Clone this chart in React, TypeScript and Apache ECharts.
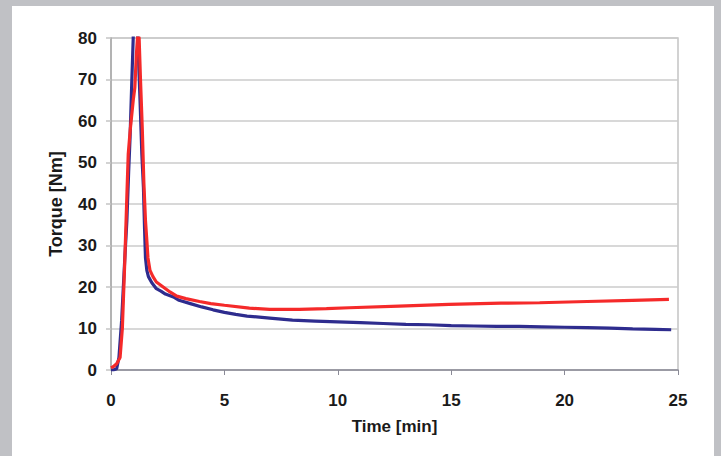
import React, { useEffect, useRef } from "react";
import * as echarts from "echarts";

const xTicks = [0, 5, 10, 15, 20, 25];
const yTicks = [0, 10, 20, 30, 40, 50, 60, 70, 80];

const blueTime = [0, 0.1, 0.25, 0.35, 0.47, 0.6, 0.7, 0.78, 0.84, 0.92, 0.98, 1.02, 1.1, 1.18, 1.28, 1.36, 1.43, 1.48, 1.52, 1.58, 1.65, 1.8, 2.0, 2.2, 2.4, 2.75, 3.0, 3.5, 4.0, 4.5, 5.0, 5.5, 6.0, 7.0, 8.0, 9.0, 10, 11, 12, 13, 14, 15, 16, 17, 18, 19, 20, 21, 22, 23, 24, 24.7];
const blueTorque = [0, 0, 0.3, 3, 12, 26, 36, 48, 56, 70, 80, 92, 92, 80, 65, 52, 44, 34, 27, 24, 22.5, 21, 19.6, 19, 18.3, 17.6, 16.8, 16.0, 15.2, 14.5, 13.9, 13.4, 13.0, 12.5, 12.0, 11.8, 11.6, 11.4, 11.2, 11.0, 10.9, 10.7, 10.6, 10.5, 10.5, 10.4, 10.3, 10.2, 10.1, 9.9, 9.8, 9.7];

const redTime = [0, 0.1, 0.25, 0.4, 0.5, 0.6, 0.7, 0.76, 0.85, 0.98, 1.05, 1.12, 1.18, 1.24, 1.3, 1.38, 1.45, 1.52, 1.57, 1.63, 1.72, 1.85, 2.0, 2.3, 2.6, 2.9, 3.3, 3.9, 4.4, 5.0, 6.1, 7.0, 8.3, 9.5, 10.5, 12.7, 14.9, 17.2, 18.9, 21, 23, 24.6];
const redTorque = [0.5, 0.8, 1.5, 3, 10, 25, 42, 52, 58, 65, 68, 76, 81, 80, 70, 58, 45, 36, 32, 27, 24, 22.5, 21.2, 20, 18.8, 17.8, 17.2, 16.5, 16.0, 15.6, 14.9, 14.6, 14.6, 14.8, 15.0, 15.4, 15.8, 16.1, 16.2, 16.5, 16.8, 17.0];

const pairs = (xs: number[], ys: number[]) => xs.map((x, i) => [x, ys[i]]);

export default function App() {
  const ref = useRef<HTMLDivElement>(null);
  useEffect(() => {
    if (!ref.current) return;
    const chart = echarts.init(ref.current, null, { renderer: "svg" });
    const font = "'Liberation Sans', Arial, sans-serif";
    chart.setOption({
      animation: false,
      backgroundColor: "#c0c1c5",
      graphic: [
        { type: "rect", shape: { x: 12, y: 6, width: 702, height: 460 }, style: { fill: "#ffffff" }, z: -10 },
      ],
      grid: { left: 111, right: 43, top: 38, bottom: 86, show: true, borderColor: "#c4c4c4", borderWidth: 1.5, backgroundColor: "transparent" },
      xAxis: {
        type: "value",
        min: 0,
        max: 25,
        interval: 5,
        name: "Time [min]",
        nameLocation: "middle",
        nameGap: 48,
        nameTextStyle: { fontFamily: font, fontWeight: "bold", fontSize: 17, color: "#1a1a1a" },
        axisLine: { show: true, lineStyle: { color: "#8a8a96", width: 1.5 } },
        axisTick: { show: true, length: 5, lineStyle: { color: "#8a8a96" } },
        axisLabel: { margin: 22, fontFamily: font, fontWeight: "bold", fontSize: 17, color: "#1a1a1a", formatter: (v: number) => (xTicks.includes(v) ? String(v) : "") },
        splitLine: { show: false },
      },
      yAxis: {
        type: "value",
        min: 0,
        max: 80,
        interval: 10,
        name: "Torque [Nm]",
        nameLocation: "middle",
        nameGap: 46,
        nameTextStyle: { fontFamily: font, fontWeight: "bold", fontSize: 18, color: "#1a1a1a" },
        axisLine: { show: true, lineStyle: { color: "#a8a8a8", width: 1.5 } },
        axisTick: { show: true, length: 5, lineStyle: { color: "#c4c4c4", width: 1.5 } },
        axisLabel: { margin: 14, fontFamily: font, fontWeight: "bold", fontSize: 17, color: "#1a1a1a", formatter: (v: number) => (yTicks.includes(v) ? String(v) : "") },
        splitLine: { show: true, lineStyle: { color: "#cbcbcb", width: 1.5 } },
      },
      series: [
        {
          type: "line",
          data: pairs(blueTime, blueTorque),
          showSymbol: false,
          clip: true,
          lineStyle: { color: "#2e2c8e", width: 3.2 },
          z: 2,
        },
        {
          type: "line",
          data: pairs(redTime, redTorque),
          showSymbol: false,
          clip: true,
          lineStyle: { color: "#f52a2a", width: 3.2 },
          z: 3,
        },
      ],
    });
    return () => chart.dispose();
  }, []);
  return <div ref={ref} style={{ position: "fixed", left: 0, top: 0, width: 721, height: 456 }} />;
}
